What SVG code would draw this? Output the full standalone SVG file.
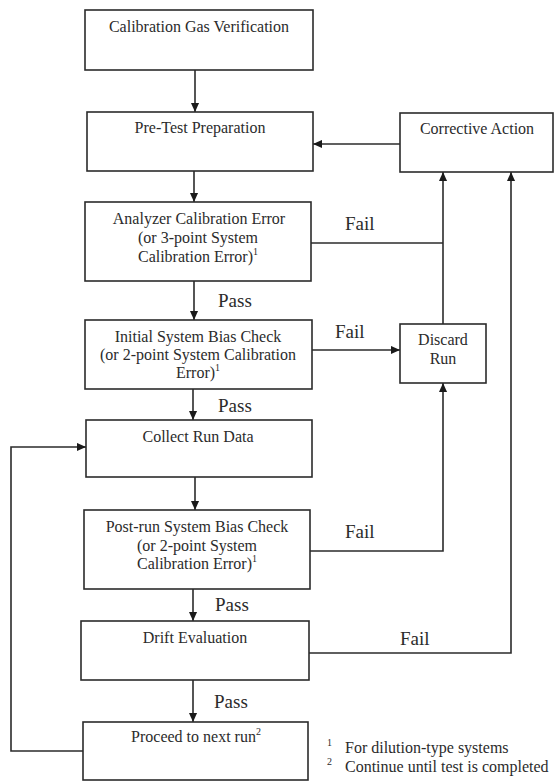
<svg xmlns="http://www.w3.org/2000/svg" width="554" height="781" viewBox="0 0 554 781">
<style>
  .box { fill: #ffffff; stroke: #2b2b2b; stroke-width: 1.6; }
  .t { font-size: 16px; fill: #2b2b2b; text-anchor: middle; }
  .lbl { font-size: 19px; fill: #2b2b2b; }
  .fn { font-size: 16px; fill: #2b2b2b; }
  .sup { font-size: 10px; }
  .c { fill: none; stroke: #2b2b2b; stroke-width: 1.6; }
  .a { marker-end: url(#ah); }
</style>
<defs>
  <marker id="ah" viewBox="0 0 10 10" refX="10" refY="5" markerUnits="userSpaceOnUse" markerWidth="9" markerHeight="9" orient="auto">
    <path d="M0,0.5 L10,5 L0,9.5 Z" fill="#1a1a1a"/>
  </marker>
</defs>
<rect width="554" height="781" fill="#ffffff"/>
<g font-family="'Liberation Serif', 'Times New Roman', serif">
<g id="connectors">
  <path class="c a" d="M195,70 L195,112"/>
  <path class="c a" d="M194,171 L194,202"/>
  <path class="c a" d="M194,281 L194,320"/>
  <path class="c a" d="M193,389 L193,420"/>
  <path class="c a" d="M195,477 L195,510"/>
  <path class="c a" d="M193,589 L193,621"/>
  <path class="c a" d="M193,680 L193,722"/>
  <path class="c a" d="M400,144 L313,144"/>
  <path class="c" d="M311,243 L443,243"/>
  <path class="c a" d="M443,324 L443,172"/>
  <path class="c a" d="M312,350 L400,350"/>
  <path class="c a" d="M310,551 L443,551 L443,383"/>
  <path class="c a" d="M309,653 L511,653 L511,172"/>
  <path class="c a" d="M83,751 L11,751 L11,447 L86,447"/>
  <text class="lbl" x="345" y="230">Fail</text>
  <text class="lbl" x="335" y="338">Fail</text>
  <text class="lbl" x="345" y="538">Fail</text>
  <text class="lbl" x="400" y="645">Fail</text>
  <text class="lbl" x="218" y="307">Pass</text>
  <text class="lbl" x="218" y="412">Pass</text>
  <text class="lbl" x="215" y="611">Pass</text>
  <text class="lbl" x="214" y="708">Pass</text>
</g>

<g id="calibration-gas-verification">
  <rect class="box" x="85" y="10" width="228" height="60"/>
  <text class="t" x="199" y="32">Calibration Gas Verification</text>
</g>
<g id="pre-test-preparation">
  <rect class="box" x="87" y="112" width="226" height="59"/>
  <text class="t" x="200" y="133">Pre-Test Preparation</text>
</g>
<g id="corrective-action">
  <rect class="box" x="400" y="113" width="153" height="59"/>
  <text class="t" x="477" y="134">Corrective Action</text>
</g>
<g id="analyzer-calibration-error">
  <rect class="box" x="85" y="202" width="226" height="79"/>
  <text class="t" x="199" y="224">Analyzer Calibration Error</text>
  <text class="t" x="198" y="243">(or 3-point System</text>
  <text class="t" x="198" y="262">Calibration Error)<tspan class="sup" dy="-7">1</tspan></text>
</g>
<g id="initial-system-bias-check">
  <rect class="box" x="85" y="320" width="227" height="69"/>
  <text class="t" x="198" y="342">Initial System Bias Check</text>
  <text class="t" x="198" y="360">(or 2-point System Calibration</text>
  <text class="t" x="198" y="378">Error)<tspan class="sup" dy="-7">1</tspan></text>
</g>
<g id="discard-run">
  <rect class="box" x="400" y="324" width="86" height="59"/>
  <text class="t" x="443" y="345">Discard</text>
  <text class="t" x="443" y="364">Run</text>
</g>
<g id="collect-run-data">
  <rect class="box" x="86" y="420" width="226" height="57"/>
  <text class="t" x="198" y="442">Collect Run Data</text>
</g>
<g id="post-run-system-bias-check">
  <rect class="box" x="84" y="510" width="226" height="79"/>
  <text class="t" x="197" y="532">Post-run System Bias Check</text>
  <text class="t" x="197" y="551">(or 2-point System</text>
  <text class="t" x="197" y="569">Calibration Error)<tspan class="sup" dy="-7">1</tspan></text>
</g>
<g id="drift-evaluation">
  <rect class="box" x="81" y="621" width="228" height="59"/>
  <text class="t" x="195" y="643">Drift Evaluation</text>
</g>
<g id="proceed-to-next-run">
  <rect class="box" x="83" y="722" width="225" height="58"/>
  <text class="t" x="196" y="742">Proceed to next run<tspan class="sup" dy="-7">2</tspan></text>
</g>

<g id="footnotes">
  <text class="fn sup" x="327" y="746">1</text>
  <text class="fn" x="345" y="753">For dilution-type systems</text>
  <text class="fn sup" x="327" y="765">2</text>
  <text class="fn" x="345" y="772">Continue until test is completed</text>
</g>
</g>
</svg>
